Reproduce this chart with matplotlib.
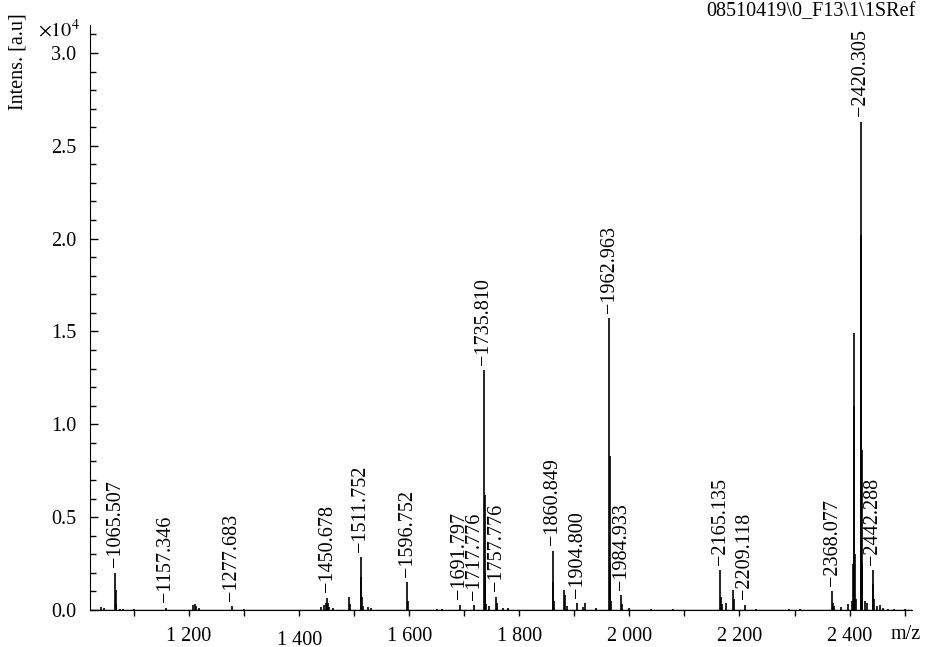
import matplotlib
matplotlib.use('Agg')
import matplotlib.pyplot as plt
from matplotlib.ticker import FixedLocator, FuncFormatter, MultipleLocator


plt.rcParams['font.family'] = ['Liberation Serif', 'DejaVu Serif']
plt.rcParams['mathtext.fontset'] = 'stix'

# labelled peaks: m/z and intensity [a.u]
LABEL_MZ = [1065.507, 1157.346, 1277.683, 1450.678, 1511.752, 1596.752,
            1691.797, 1717.776, 1735.810, 1757.776, 1860.849, 1904.800,
            1962.963, 1984.933, 2165.135, 2209.118, 2368.077, 2420.305,
            2442.288]
LABEL_INT = [2000, 120, 200, 650, 2850, 1500,
             280, 250, 12900, 700, 3200, 350,
             15700, 800, 2150, 280, 1000, 26300,
             2150]

# other (unlabelled) signals
OTHER_MZ = [1040, 1045, 1066.5, 1068, 1075, 1080, 1100, 1208, 1210, 1213,
            1218, 1300, 1440, 1445, 1448, 1452, 1455, 1462, 1490, 1493,
            1512.8, 1514, 1516, 1525, 1530, 1597.8, 1650, 1660, 1737, 1738,
            1740, 1745, 1758.8, 1760, 1770, 1780, 1862, 1863, 1882, 1883.5,
            1886, 1915, 1920, 1940, 1964, 1965, 1967, 1986, 2000, 2040,
            2080, 2166.5, 2168, 2175, 2188, 2189.5, 2230, 2290, 2310, 2369.5,
            2372, 2385, 2398, 2404, 2406, 2407.5, 2408.5, 2410, 2412, 2421.3,
            2422.3, 2423.3, 2428, 2432, 2443.3, 2444.3, 2450, 2455, 2460, 2470,
            2480, 2500]
OTHER_INT = [150, 100, 1100, 300, 80, 60, 50, 250, 300, 200,
             100, 50, 150, 250, 350, 400, 150, 100, 700, 300,
             1800, 700, 200, 150, 120, 500, 80, 60, 6200, 2000,
             300, 200, 400, 200, 100, 100, 1500, 500, 1100, 800,
             200, 150, 400, 100, 8300, 2500, 500, 300, 100, 50,
             50, 700, 300, 350, 1100, 600, 50, 60, 60, 400,
             200, 150, 300, 500, 2500, 14900, 11000, 3000, 600, 20200,
             8600, 2500, 500, 400, 1400, 600, 200, 250, 100, 80,
             50, 60]

TITLE = '08510419\\0_F13\\1\\1SRef'
FS = 14.5

fig = plt.figure(figsize=(9.25, 6.47), dpi=100)
ax = fig.add_axes([0.0973, 0.0572, 0.889, 0.904])

scale = 1e4
all_mz = LABEL_MZ + OTHER_MZ
all_int = [v / scale for v in LABEL_INT + OTHER_INT]
ax.vlines(all_mz, 0, all_int, color='black', linewidth=1.2)
ax.hlines(0.0015, 1020, 2514, color='black', linewidth=1.0)

for mz, val in zip(LABEL_MZ, LABEL_INT):
    ax.annotate('\u2212' + f'{mz:.3f}', xy=(mz, val / scale), xytext=(0, 4),
                textcoords='offset points', rotation=90, ha='center',
                va='bottom', fontsize=FS)

ax.set_xlim(1020, 2514)
ax.set_ylim(0, 3.15)

for side in ['top', 'right']:
    ax.spines[side].set_visible(False)

# y axis
ax.yaxis.set_major_locator(MultipleLocator(0.5))
ax.yaxis.set_minor_locator(MultipleLocator(0.1))
ax.yaxis.set_major_formatter(FuncFormatter(lambda v, p: f'{v:.1f}'))
ax.tick_params(axis='y', which='major', direction='in', length=6, width=1,
               labelsize=FS, pad=10)
ax.tick_params(axis='y', which='minor', direction='in', length=4, width=1)

# x axis
xt = [1200, 1400, 1600, 1800, 2000, 2200, 2400]
ax.xaxis.set_major_locator(FixedLocator(xt))
ax.xaxis.set_minor_locator(FixedLocator([1100, 1300, 1500, 1700, 1900,
                                         2100, 2300, 2500]))
ax.xaxis.set_major_formatter(FuncFormatter(
    lambda v, p: f'{int(v):,}'.replace(',', ' ')))
ax.tick_params(axis='x', which='both', direction='out', length=4, width=1,
               labelsize=FS, pad=8)
ax.xaxis.get_major_ticks()[1].set_pad(11)

fig.text(0.087, 0.953, r'$\times10^4$', ha='right', va='center', fontsize=FS)
fig.text(0.02, 0.905, 'Intens. [a.u]', rotation=90, ha='center',
         va='center', fontsize=FS)
fig.text(0.995, 0.020, 'm/z', ha='right', va='center', fontsize=FS)
fig.text(0.99, 0.982, TITLE, ha='right', va='center', fontsize=FS)

fig.savefig('out.png', dpi=100)
